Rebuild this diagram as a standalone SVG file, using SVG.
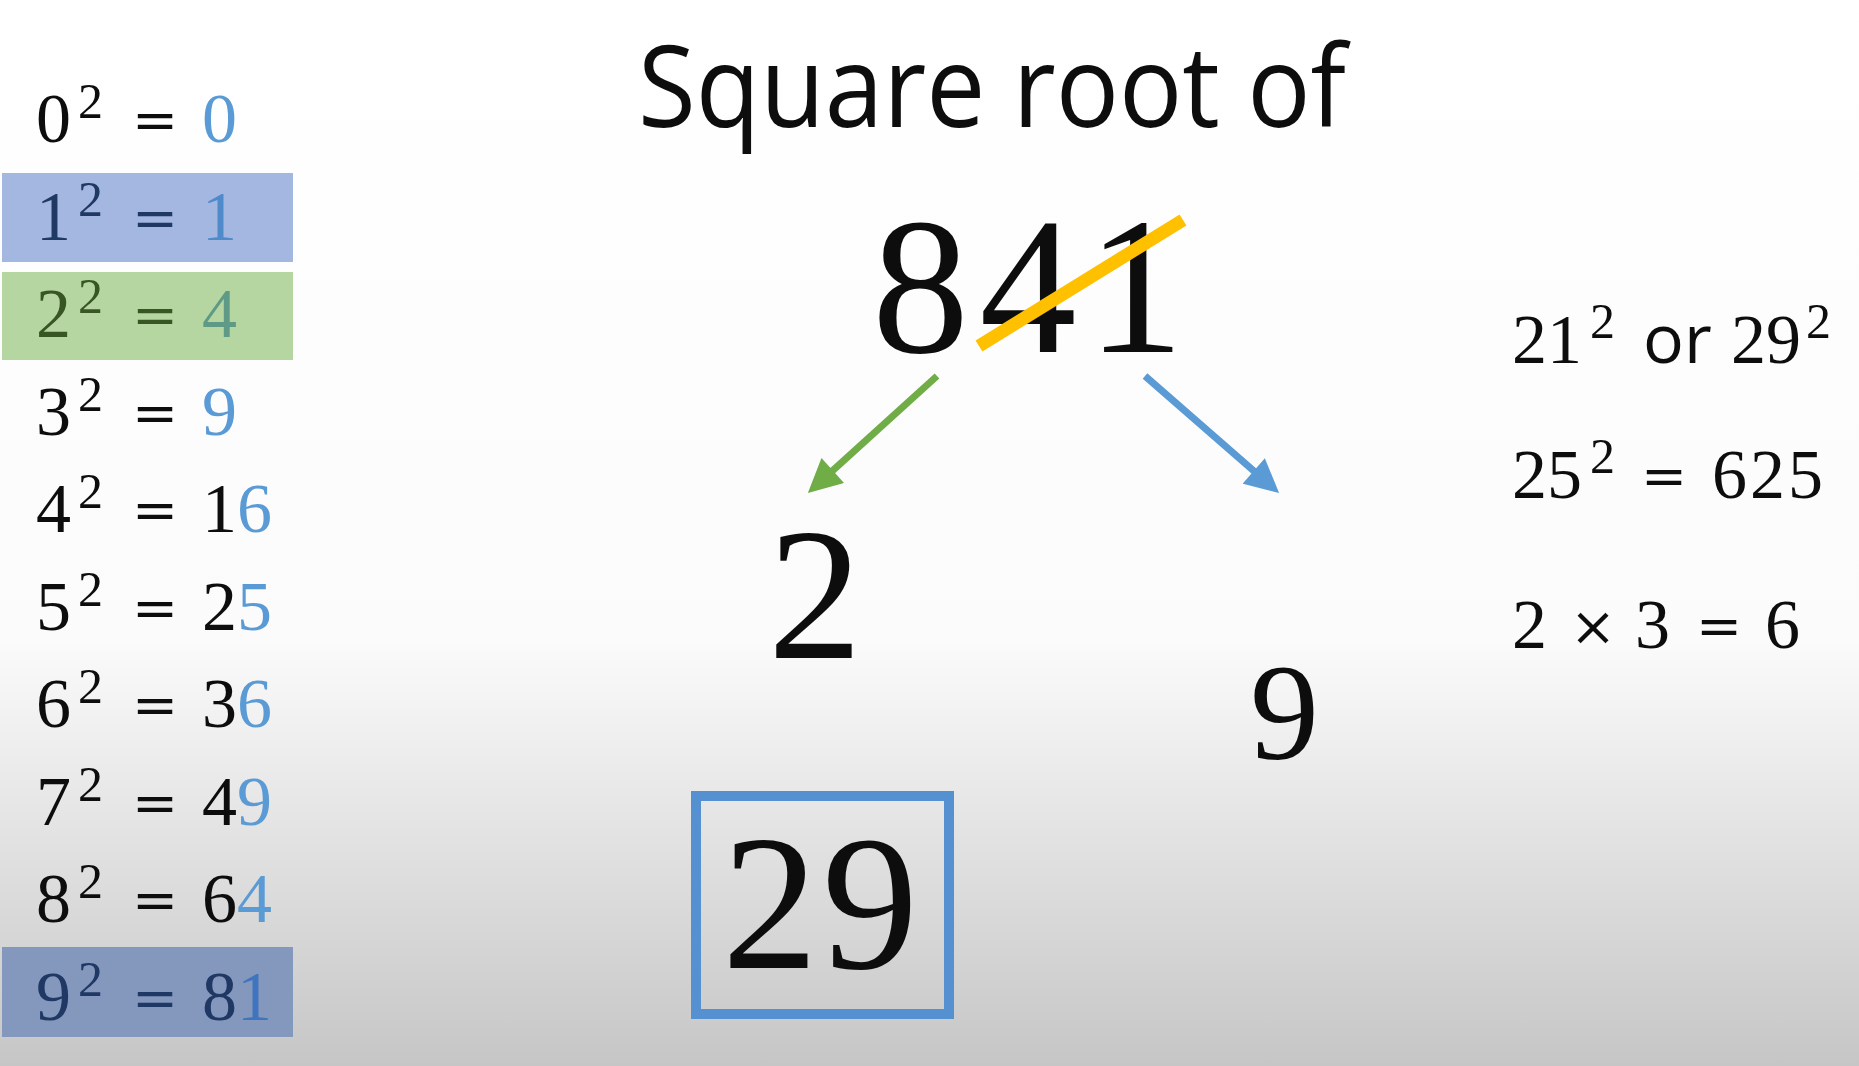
<svg xmlns="http://www.w3.org/2000/svg" width="1859" height="1066" viewBox="0 0 1859 1066">
<defs>
<linearGradient id="bg" x1="0" y1="0" x2="0" y2="1">
<stop offset="0" stop-color="#ffffff"/>
<stop offset="0.6" stop-color="#fbfbfb"/>
<stop offset="1" stop-color="#c6c6c6"/>
</linearGradient>
<marker id="ahG" viewBox="0 0 10 10" refX="3.6" refY="5" markerWidth="5" markerHeight="4.8" orient="auto" markerUnits="strokeWidth"><path d="M0,0 L10,5 L0,10 Z" fill="#70AD47"/></marker>
<marker id="ahB" viewBox="0 0 10 10" refX="3.6" refY="5" markerWidth="5" markerHeight="4.8" orient="auto" markerUnits="strokeWidth"><path d="M0,0 L10,5 L0,10 Z" fill="#5B9BD5"/></marker>
</defs>
<style>
.m{font-family:"Liberation Serif","Times New Roman",serif;font-size:70px;fill:#0d0d0d}
.s{font-size:50px}
.eq{font-family:"DejaVu Serif","Liberation Serif",serif;font-size:55px}
.b{fill:#5B9BD5}
.big{font-family:"Liberation Serif","Times New Roman",serif;fill:#0d0d0d}
.sans{font-family:"Open Sans","Noto Sans",sans-serif;fill:#0d0d0d}
</style>
<rect x="0" y="0" width="1859" height="1066" fill="url(#bg)"/>

<g id="table">
<rect x="2" y="173" width="291" height="89" fill="#A3B7E1"/>
<rect x="2" y="272" width="291" height="88" fill="#B6D6A1"/>
<rect x="2" y="947" width="291" height="90" fill="#8497BC"/>

<g id="r0"><text class="m" x="36" y="142">0</text><text class="m s" x="78" y="118">2</text><text class="m eq" x="132" y="139">=</text><text class="m b" x="202" y="142">0</text></g>
<g id="r1"><text class="m" x="36" y="239.5" style="fill:#1F3864">1</text><text class="m s" x="78" y="215.5" style="fill:#1F3864">2</text><text class="m eq" x="132" y="236.5" style="fill:#1F3864">=</text><text class="m" x="202" y="239.5" style="fill:#4F8ACB">1</text></g>
<g id="r2"><text class="m" x="36" y="337" style="fill:#375623">2</text><text class="m s" x="78" y="313" style="fill:#375623">2</text><text class="m eq" x="132" y="334" style="fill:#375623">=</text><text class="m" x="202" y="337" style="fill:#5E9A86">4</text></g>
<g id="r3"><text class="m" x="36" y="434.5">3</text><text class="m s" x="78" y="410.5">2</text><text class="m eq" x="132" y="431.5">=</text><text class="m b" x="202" y="434.5">9</text></g>
<g id="r4"><text class="m" x="36" y="532">4</text><text class="m s" x="78" y="508">2</text><text class="m eq" x="132" y="529">=</text><text class="m" x="202" y="532">1<tspan class="b">6</tspan></text></g>
<g id="r5"><text class="m" x="36" y="629.5">5</text><text class="m s" x="78" y="605.5">2</text><text class="m eq" x="132" y="626.5">=</text><text class="m" x="202" y="629.5">2<tspan class="b">5</tspan></text></g>
<g id="r6"><text class="m" x="36" y="727">6</text><text class="m s" x="78" y="703">2</text><text class="m eq" x="132" y="724">=</text><text class="m" x="202" y="727">3<tspan class="b">6</tspan></text></g>
<g id="r7"><text class="m" x="36" y="824.5">7</text><text class="m s" x="78" y="800.5">2</text><text class="m eq" x="132" y="821.5">=</text><text class="m" x="202" y="824.5">4<tspan class="b">9</tspan></text></g>
<g id="r8"><text class="m" x="36" y="922">8</text><text class="m s" x="78" y="898">2</text><text class="m eq" x="132" y="919">=</text><text class="m" x="202" y="922">6<tspan class="b">4</tspan></text></g>
<g id="r9"><text class="m" x="36" y="1019.5" style="fill:#1F3864">9</text><text class="m s" x="78" y="995.5" style="fill:#1F3864">2</text><text class="m eq" x="132" y="1016.5" style="fill:#1F3864">=</text><text class="m" x="202" y="1019.5" style="fill:#1F3864">8<tspan style="fill:#3F74BE">1</tspan></text></g>
</g>

<g id="title"><text class="sans" x="638" y="127" font-size="114" textLength="708" lengthAdjust="spacingAndGlyphs">Square root of</text></g>

<g id="n841">
<text class="big" x="872" y="352" font-size="194" textLength="312">841</text>
<line x1="979" y1="346" x2="1183" y2="220" stroke="#FFC000" stroke-width="13"/>
</g>

<g id="n2"><text class="big" x="768" y="658" font-size="188">2</text></g>
<g id="n9"><text class="big" x="1250" y="759" font-size="138">9</text></g>

<g id="n29">
<rect x="696" y="796" width="253" height="218" fill="none" stroke="#5590D0" stroke-width="10"/>
<text class="big" x="722" y="968" font-size="192" textLength="196">29</text>
</g>

<g id="connectors">
<line x1="937" y1="376" x2="823.8" y2="478.6" stroke="#70AD47" stroke-width="7" marker-end="url(#ahG)"/>
<line x1="1145" y1="376" x2="1262.9" y2="478.9" stroke="#5B9BD5" stroke-width="7" marker-end="url(#ahB)"/>
</g>

<g id="notes">
<g id="note1"><text class="m" x="1512" y="363">21</text><text class="m s" x="1590" y="338">2</text><text class="sans" x="1643" y="363" font-size="68">or</text><text class="m" x="1731" y="363">29</text><text class="m s" x="1806" y="338">2</text></g>
<g id="note2"><text class="m" x="1512" y="498">25</text><text class="m s" x="1590" y="473">2</text><text class="m eq" x="1641" y="495">=</text><text class="m" x="1712" y="498" textLength="111">625</text></g>
<g id="note3"><text class="m" x="1512" y="648">2</text><text class="m eq" x="1570" y="645">×</text><text class="m" x="1635" y="648">3</text><text class="m eq" x="1696" y="645">=</text><text class="m" x="1765" y="648">6</text></g>
</g>
</svg>
